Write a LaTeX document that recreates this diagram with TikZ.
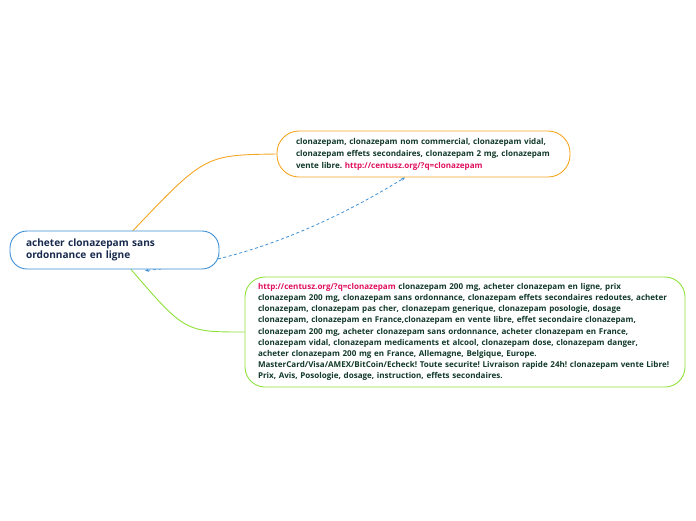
\documentclass[tikz,border=0pt]{standalone}
\usepackage{fontspec}
\setmainfont{Open Sans}
\frenchspacing
\usetikzlibrary{arrows.meta,backgrounds}
\definecolor{bblue}{HTML}{3D8FD6}
\definecolor{borange}{HTML}{F5A623}
\definecolor{bgreen}{HTML}{8EE03A}
\definecolor{txtgreen}{HTML}{123A2A}
\definecolor{txtnavy}{HTML}{182A4E}
\definecolor{urlred}{HTML}{E0115F}
\newcommand{\lnk}[1]{{\color{urlred}#1}}
\tikzset{
  box/.style={draw, fill=white, line width=0.9pt, align=left, anchor=center, inner ysep=0pt},
  smalltxt/.style={font=\fontsize{8.05}{11.1}\selectfont\bfseries, text=txtgreen},
  link/.style={line width=0.9pt},
}
\begin{document}
\begin{tikzpicture}[x=1pt,y=-1pt]
\useasboundingbox (0,0) rectangle (696,520);
\node[box, draw=bblue, rounded corners=17pt, minimum height=38pt, text width=177pt, inner xsep=16pt,
  font=\fontsize{10.1}{12}\selectfont\bfseries, text=txtnavy] (c) at (114.5,250)
  {acheter clonazepam sans\\ordonnance en ligne};
\node[box, draw=borange, rounded corners=22pt, minimum height=46pt, text width=255pt, inner xsep=19pt,
  smalltxt, font=\fontsize{8.05}{12}\selectfont\bfseries] (t) at (423.5,154)
  {clonazepam, clonazepam nom commercial, clonazepam vidal,\\
   clonazepam effets secondaires, clonazepam 2 mg, clonazepam\\
   vente libre. \lnk{http://centusz.org/?q=clonazepam}};
\node[box, draw=bgreen, rounded corners=20pt, minimum height=110pt, text width=414pt, inner xsep=13pt,
  smalltxt] (b) at (465,332)
  {\lnk{http://centusz.org/?q=clonazepam} clonazepam 200 mg, acheter clonazepam en ligne, prix\\
   clonazepam 200 mg, clonazepam sans ordonnance, clonazepam effets secondaires redoutes, acheter\\
   clonazepam, clonazepam pas cher, clonazepam generique, clonazepam posologie, dosage\\
   clonazepam, clonazepam en France,clonazepam en vente libre, effet secondaire clonazepam,\\
   clonazepam 200 mg, acheter clonazepam sans ordonnance, acheter clonazepam en France,\\
   clonazepam vidal, clonazepam medicaments et alcool, clonazepam dose, clonazepam danger,\\
   acheter clonazepam 200 mg en France, Allemagne, Belgique, Europe.\\
   MasterCard/Visa/AMEX/BitCoin/Echeck! Toute securite! Livraison rapide 24h! clonazepam vente Libre!\\
   Prix, Avis, Posologie, dosage, instruction, effets secondaires.};
\coordinate (cn) at ([xshift=18.5pt]c.north);
\coordinate (cs) at ([xshift=16.5pt]c.south);
\coordinate (ca) at ([xshift=30.5pt,yshift=-1pt]c.south);
\coordinate (tb) at ([xshift=-18.5pt]t.south);
\begin{scope}[on background layer]
\draw[link, borange] (cn) .. controls (205,155) .. (t.west);
\draw[link, bgreen] (cs) .. controls (185,332) .. (b.west);
\draw[bblue, line width=0.8pt, dash pattern=on 3pt off 2.5pt,
  {Stealth[length=4pt,width=3.5pt]}-{Stealth[length=4pt,width=3.5pt]}]
  (ca) .. controls (260,262) and (360,205) .. (tb);
\end{scope}
\end{tikzpicture}
\end{document}
